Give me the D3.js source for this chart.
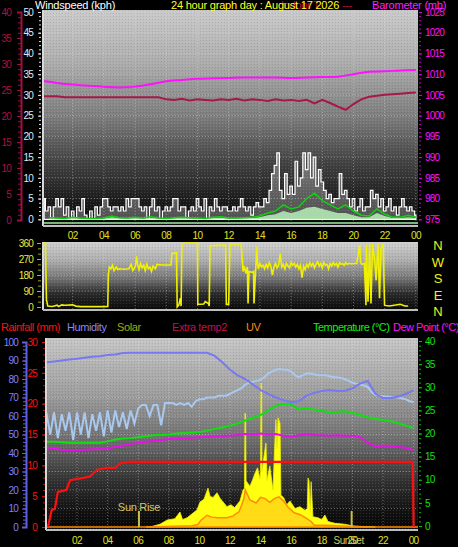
<!DOCTYPE html>
<html><head><meta charset="utf-8">
<script src="https://cdn.jsdelivr.net/npm/d3@7/dist/d3.min.js"></script>
<style>
body{margin:0;background:#000;}
svg{display:block;}
text{font-family:"Liberation Sans",Arial,sans-serif;}
</style>
</head><body>
<svg id="c" width="458" height="547"></svg>
<script>
// ---------------- DATA ----------------
const timeLabels = ["02","04","06","08","10","12","14","16","18","20","22","00"];
const timeLabelHours = [2,4,6,8,10,12,14,16,18,20,22,24];

// Top panel: wind (kph), 10-minute gusts
const windGust = [
 5,2,3,0,3,5, 3,5,1,3,0,2, 0,3,2,5,1,0, 2,0,3,1,3,5, 5,3,2,3,3,2, 3,2,5,3,5,5,
 5,3,2,3,0,3, 5,2,3,0,2,3, 2,3,5,5,2,3, 3,0,2,3,2,5, 3,2,5,0,3,2, 5,3,2,3,3,2,
 2,3,2,3,5,3, 2,3,1,3,4,3, 3,5,4,7,11,13, 16,7,5,11,6,8, 6,14,8,10,16,12, 16,10,15,8,12,9,
 7,5,6,4,5,5, 11,6,7,5,3,5, 2,3,5,2,3,3, 7,5,6,3,5,2, 3,5,2,3,1,3, 5,3,2,3,2,1
];
// half-hourly average wind speed
const windAvg = [
 0.4,0.3, 0.2,0.5, 0.3,0.2, 0.2,0.3, 0.8,0.4, 0.3,0.5, 0.3,0.6, 0.3,0.2, 0.4,0.5, 0.4,0.3,
 0.2,0.5, 0.6,0.3, 0.3,0.4, 0.5,0.8, 1.5,2, 3.5,2.5, 3,5, 6.3,4.5, 3.5,2.5, 3.5,2,
 1,0.8, 2.5,1.2, 0.5,0.5, 1,0.5
];
// half-hourly lull (pale green area)
const windLull = [
 0.3,0.2,0.2,0.3,0.2,0.2,0.2,0.2,0.5,0.3,0.2,0.3,0.2,0.4,0.2,0.2,0.3,0.3,0.2,0.2,
 0.2,0.3,0.4,0.2,0.2,0.3,0.3,0.5, 1,1.2,2,1.5,2,2.8,3,2.5,2,1.5,1.5,1,0.5,0.5,1.5,0.8,0.3,0.3,0.5,0.3
];
// hourly barometer (mb)
const barometer = [1008.4,1007.9,1007.5,1007.2,1007.0,1006.8,1007.0,1007.6,1008.3,1008.6,1008.9,1009.0,
 1009.1,1009.2,1009.2,1009.2,1009.1,1009.2,1009.3,1009.4,1010.0,1010.6,1010.7,1010.9,1011.0];
// half-hourly indoor temperature
const indoorTemp = [23.8,23.8,23.8,23.6,23.6,23.6,23.6,23.6,23.6,23.6,23.6,23.6,23.6,23.6,23.6,23.6,
 23.2,23.1,23.3,23.0,23.2,23.1,23.0,23.2,23.1,23.3,23.0,23.2,23.1,22.9,23.2,23.0,23.1,22.9,23.1,22.4,
 23.1,22.5,21.8,21.2,22.3,23.2,23.7,23.9,24.1,24.2,24.3,24.4,24.5];

// Middle panel: wind direction (deg)
const dirHours = [0.10,0.25,0.32,0.40,0.70,1.00,1.10,1.30,1.50,2.00,2.20,2.50,3.00,3.50,4.00,4.25,
 4.28,4.35,4.45,4.55,4.65,4.80,4.90,5.00,5.30,5.60,5.75,5.85,6.00,6.10,6.15,6.25,6.35,6.45,6.55,6.65,6.75,6.85,6.95,7.05,7.15,7.30,7.40,7.60,7.80,8.00,8.30,
 8.35,8.65,8.70,8.80,8.90,8.95,9.00,9.20,10.00,10.02,10.40,10.50,10.70,10.75,10.80,11.80,11.85,12.00,12.08,12.80,12.92,13.00,13.10,13.20,13.24,13.30,13.50,13.60,13.62,13.80,13.85,
 13.90,14.00,14.10,14.20,14.30,14.40,14.50,14.60,14.70,14.80,14.90,15.00,15.10,15.20,15.30,15.40,15.50,15.60,15.70,15.80,15.90,16.00,16.10,16.20,16.30,16.40,16.50,16.60,16.70,16.80,16.90,
 17.00,17.10,17.20,17.30,17.40,17.50,17.60,17.70,17.80,17.90,18.00,18.10,18.20,18.30,18.40,18.50,18.60,18.70,18.80,18.90,19.00,19.10,19.20,19.30,19.40,19.50,19.60,19.70,19.80,19.90,20.00,20.20,20.40,20.45,20.55,20.70,20.80,
 20.82,20.93,21.03,21.12,21.22,21.35,21.45,21.57,21.67,21.76,21.90,21.99,22.08,22.30,23.00,23.30,23.50,24.20];
const dirDeg = [355,360,40,5,3,10,3,12,10,12,5,2,2,2,2,3,
 180,225,215,235,205,225,210,215,212,215,240,205,225,285,240,210,245,220,235,205,240,215,225,200,230,215,240,238,236,236,236,
 300,305,0,10,50,5,355,360,360,15,17,30,20,5,345,348,15,15,355,355,200,230,190,225,20,200,195,200,20,340,
 240,215,245,225,235,215,240,220,250,230,180,225,245,220,235,300,225,240,215,245,230,220,250,235,245,225,240,215,235,165,230,
 210,240,225,250,230,245,220,240,255,230,245,220,250,235,240,215,245,230,250,235,245,225,250,240,245,235,250,240,245,245,242,245,245,350,250,240,245,
 10,350,30,355,20,355,270,150,355,50,330,355,10,8,6,15,6,6];

// Bottom panel
const rainHours = [0.1,0.35,0.55,0.75,1.3,1.55,2.5,2.85,3.3,3.95,4.5,4.85,5.35,23.95,24.0];
const rainMM    = [0,2.8,2.9,5.7,6.0,7.6,8.0,8.2,9.25,9.6,9.6,10.4,10.55,10.55,0];
// half-hourly humidity (%)
const humidity = [89,89.5,90,90.5,91,91.5,92,92.3,93,93.3,94,94.2,
 94.2,94.2,94.2,94.2,94.2,94.2,94.2,94.2,94.2,94.2,
 92.5,89,85,82,80,77,74,72,70,68.5,67.5,68,71,72.5,73.5,74,73.5,73.5,75,77.5,79,72,69.7,69.7,70.5,72,74];
// 15-minute extra humidity (%) (light blue)
const extraHum = [62,50,62,48,61, 52,62,47,62, 50,62,48,61, 52,62,49,63, 51,63,54,62, 53,63,56,64,
 66,66,60,66, 66,55,67,67, 67,66,67,66, 67,65,68,69, 69,70,70,70, 71,71,71,72, 73,74,75,77,
 78,78.5,79,79.5, 81,83,84,85, 85.4,85,85,84, 82,81,82,83, 83,82.5,82,82, 82,81.5,81,81,
 80.5,80,79,78, 77.5,77,76.5,75.7, 73,71.5,71,70.5, 70.5,70.3,70.3,70, 69.5,69,68,67.5];
// half-hourly temperature and dew point (°C)
const temperature = [18.2,18.2,18.1,18.0,18.0,18.0,18.0,18.0,18.3,18.7,18.9,19.0,19.2,19.4,19.6,19.7,19.8,20.0,20.1,20.2,
 20.3,20.6,21.0,21.3,21.7,22.2,22.8,23.4,24.0,25.0,26.0,26.4,26.3,25.2,25.4,25.2,24.9,24.6,24.7,24.8,24.5,24.0,23.5,23.2,22.9,22.7,22.2,21.7,21.2];
const dewPoint = [16.9,16.8,16.5,16.4,16.4,16.5,16.6,16.6,16.8,17.1,17.4,17.7,18.0,18.2,18.4,18.6,18.8,18.9,19.0,19.1,
 19.2,19.3,19.4,19.5,19.5,19.7,19.9,19.8,20.0,19.8,19.9,19.5,19.3,19.6,19.9,19.7,19.6,19.5,19.6,19.5,19.5,19.2,18.0,17.2,17.4,17.3,17.1,16.9,16.4];
// solar (W/m2)
const solarHours = [6.77,7.42,7.9,8.4,8.73,8.9,9.2,9.5,9.84,10.04,10.3,10.56,10.7,10.9,11.15,11.35,11.6,11.8,12.06,12.3,12.65,12.85,12.95,12.98,13.02,13.05,13.3,13.5,13.63,13.8,13.96,14.0,14.03,14.07,14.09,14.22,14.35,14.42,14.6,14.81,14.94,15.0,15.07,15.14,15.27,15.33,15.5,15.7,15.92,16.25,16.57,16.9,17.05,17.1,17.16,17.25,17.3,17.42,17.75,18.0,18.2,18.4,18.86,19.5,20.1,20.8,21.5];
const solarW = [0,15,38,45,81,40,50,70,92,135,150,210,165,160,185,155,130,110,120,105,140,200,210,616,600,250,220,260,290,320,260,300,778,760,300,380,454,250,330,200,470,580,420,590,560,170,160,120,140,100,110,90,100,265,250,80,245,55,50,40,65,30,20,15,5,2,0];
// UV index
const uvHours = [6.5,9.5,9.9,10.1,10.5,10.8,11.2,11.8,12.2,12.6,12.9,13.0,13.3,13.7,14.0,14.3,14.6,14.9,15.2,15.5,15.8,16.2,16.6,17.0,17.3,17.5,18.2,19,20,21];
const uvIndex = [0,0.2,0.4,1.1,1.9,1.6,1.5,1.5,1.8,2.5,4.5,6.0,4.4,3.9,4.8,4.6,4.0,4.6,4.9,4.2,3.2,2.3,2.0,1.4,0.9,0.3,0.3,0.2,0.1,0];
const sunLabels = ["Sun Rise","SunSet"];
const sunHours = [6.05,19.95];

// ---------------- DRAWING ----------------
const svg = d3.select("#c");
const defs = svg.append("defs");
function grad(id, stops){
  const g = defs.append("linearGradient").attr("id",id).attr("x1",0).attr("y1",0).attr("x2",0).attr("y2",1);
  stops.forEach(s=>g.append("stop").attr("offset",s[0]).attr("stop-color",s[1]));
}
grad("g1",[[0,"#cacaca"],[0.25,"#acacac"],[0.5,"#7c7c7c"],[0.7,"#444"],[0.88,"#1c1c1c"],[1,"#080808"]]);
grad("g2",[[0,"#d0d0d0"],[0.3,"#a8a8a8"],[0.55,"#707070"],[0.75,"#2c2c2c"],[1,"#080808"]]);
grad("g3",[[0,"#c6c6c6"],[0.3,"#9c9c9c"],[0.55,"#6a6a6a"],[0.75,"#303030"],[0.9,"#121212"],[1,"#050505"]]);
const pat = defs.append("pattern").attr("id","dots").attr("width",3).attr("height",3).attr("patternUnits","userSpaceOnUse");
pat.append("rect").attr("x",0).attr("y",0).attr("width",1).attr("height",1).attr("fill","#fff").attr("opacity",0.12);
pat.append("rect").attr("x",2).attr("y",1).attr("width",1).attr("height",1).attr("fill","#000").attr("opacity",0.10);

const P1={x0:43,x1:418,y0:10,y1:226}, P2={x0:43,x1:418,y0:242,y1:310}, P3={x0:46,x1:418,y0:338,y1:530};
[["c1",P1],["c2",P2],["c3",P3]].forEach(([id,P])=>{
  defs.append("clipPath").attr("id",id).append("rect").attr("x",P.x0).attr("y",P.y0).attr("width",P.x1-P.x0).attr("height",P.y1-P.y0);
});
function panelBg(P,g){
  svg.append("rect").attr("x",P.x0).attr("y",P.y0).attr("width",P.x1-P.x0).attr("height",P.y1-P.y0).attr("fill",`url(#${g})`);
  svg.append("rect").attr("x",P.x0).attr("y",P.y0).attr("width",P.x1-P.x0).attr("height",P.y1-P.y0).attr("fill","url(#dots)");
}
panelBg(P1,"g1"); panelBg(P2,"g2"); panelBg(P3,"g3");

const xTop = d3.scaleLinear().domain([0,24]).range([41.5,415.9]);
const xBot = d3.scaleLinear().domain([0,24]).range([46.4,413.6]);
const yWind = d3.scaleLinear().domain([0,50]).range([219.3,12]);
const yIndoor = d3.scaleLinear().domain([0,40]).range([220,12]);
const yBaro = d3.scaleLinear().domain([975,1025]).range([219.3,12]);
const yDir = d3.scaleLinear().domain([0,360]).range([307,243]);
const yHum = d3.scaleLinear().domain([0,100]).range([527,342]);
const yRain = d3.scaleLinear().domain([0,30]).range([527,342]);
const yTemp = d3.scaleLinear().domain([0,40]).range([526,341]);
const ySolar = d3.scaleLinear().domain([0,1000]).range([527,342]);

const gridCol="#e8e8e8";
function grid(P, xs, ys, x){
  const g = svg.append("g").attr("clip-path",`url(#${P===P1?"c1":P===P2?"c2":"c3"})`);
  timeLabelHours.forEach(h=>g.append("line").attr("x1",x(h)).attr("x2",x(h)).attr("y1",P.y0).attr("y2",P.y1)
    .attr("stroke",gridCol).attr("stroke-opacity",0.4).attr("stroke-dasharray","1,2"));
  ys.forEach(v=>g.append("line").attr("x1",P.x0).attr("x2",P.x1).attr("y1",xs(v)).attr("y2",xs(v))
    .attr("stroke",gridCol).attr("stroke-opacity",0.4).attr("stroke-dasharray","1,2"));
}
grid(P1, yWind, d3.range(5,50,5), xTop);
grid(P2, yDir, [90,180,270], xTop);
grid(P3, yHum, d3.range(10,100,10), xBot);

// ---- top panel series
const halfH = d3.range(0,24.01,0.5);
const gustH = windGust.map((d,i)=>(i+1)/6);
const avgH = windAvg.map((d,i)=>(i+1)/2);
const hourH = barometer.map((d,i)=>i);
const t1 = svg.append("g").attr("clip-path","url(#c1)");
t1.append("path").datum(windGust).attr("fill","#ffffff").attr("fill-opacity",0.28).attr("stroke","#ffffff").attr("stroke-width",1.2)
  .attr("d",d3.area().curve(d3.curveStep).x((d,i)=>xTop(gustH[i])).y0(yWind(0)).y1(d=>yWind(d)));
t1.append("path").datum(windLull).attr("fill","#b8f0b8").attr("fill-opacity",0.85)
  .attr("d",d3.area().x((d,i)=>xTop(avgH[i])).y0(yWind(0)).y1(d=>yWind(d)));
t1.append("path").datum(windAvg).attr("fill","none").attr("stroke","#10d010").attr("stroke-width",1.5)
  .attr("d",d3.line().x((d,i)=>xTop(avgH[i])).y(d=>yWind(d)));
t1.append("line").attr("x1",P1.x0).attr("x2",P1.x1).attr("y1",223).attr("y2",223).attr("stroke","#a0e8a0").attr("stroke-width",1.5);
t1.append("path").datum(indoorTemp).attr("fill","none").attr("stroke","#a51848").attr("stroke-width",2)
  .attr("d",d3.line().x((d,i)=>xTop(halfH[i])).y(d=>yIndoor(d)));
t1.append("path").datum(barometer).attr("fill","none").attr("stroke","#ff10ff").attr("stroke-width",2)
  .attr("d",d3.line().curve(d3.curveMonotoneX).x((d,i)=>xTop(hourH[i])).y(d=>yBaro(d)));

// ---- middle panel
const t2 = svg.append("g").attr("clip-path","url(#c2)");
t2.append("path").datum(dirDeg).attr("fill","none").attr("stroke","#f0f000").attr("stroke-width",1.6)
  .attr("d",d3.line().x((d,i)=>xTop(dirHours[i])).y(d=>yDir(d)));

// ---- bottom panel
const q4 = extraHum.map((d,i)=>i/4);
const t3 = svg.append("g").attr("clip-path","url(#c3)");
t3.append("path").datum(solarW).attr("fill","#ffff10").attr("stroke","#f0f000").attr("stroke-width",0.8)
  .attr("d",d3.area().x((d,i)=>xBot(solarHours[i])).y0(yRain(0)).y1(d=>ySolar(d)));
t3.append("path").datum(uvIndex).attr("fill","#ff9a20").attr("fill-opacity",0.35)
  .attr("d",d3.area().x((d,i)=>xBot(uvHours[i])).y0(yRain(0)).y1(d=>yRain(d)));
t3.append("path").datum(uvIndex).attr("fill","none").attr("stroke","#ff8c00").attr("stroke-width",1.5)
  .attr("d",d3.line().x((d,i)=>xBot(uvHours[i])).y(d=>yRain(d)));
t3.append("line").attr("x1",P3.x0).attr("x2",P3.x1).attr("y1",yRain(0)).attr("y2",yRain(0)).attr("stroke","#ff8c00").attr("stroke-width",1.5);
t3.append("path").datum(extraHum).attr("fill","none").attr("stroke","#a8c8f0").attr("stroke-width",2)
  .attr("d",d3.line().x((d,i)=>xBot(q4[i])).y(d=>yHum(d)));
t3.append("path").datum(humidity).attr("fill","none").attr("stroke","#7878f0").attr("stroke-width",2)
  .attr("d",d3.line().x((d,i)=>xBot(halfH[i])).y(d=>yHum(d)));
t3.append("path").datum(temperature).attr("fill","none").attr("stroke","#10e010").attr("stroke-width",2)
  .attr("d",d3.line().x((d,i)=>xBot(halfH[i])).y(d=>yTemp(d)));
t3.append("path").datum(dewPoint).attr("fill","none").attr("stroke","#e810e8").attr("stroke-width",2)
  .attr("d",d3.line().x((d,i)=>xBot(halfH[i])).y(d=>yTemp(d)));
t3.append("path").datum(rainMM).attr("fill","none").attr("stroke","#ff1010").attr("stroke-width",2.2)
  .attr("d",d3.line().x((d,i)=>xBot(rainHours[i])).y(d=>yRain(d)));
sunHours.forEach((h,i)=>{
  t3.append("line").attr("x1",xBot(h)).attr("x2",xBot(h)).attr("y1",511).attr("y2",527).attr("stroke","#c8c040").attr("stroke-width",2);
});
svg.append("text").attr("x",xBot(sunHours[0])).attr("y",511).attr("text-anchor","middle").attr("fill","#d0c860")
  .attr("font-size","11px").attr("letter-spacing","-0.3px").text(sunLabels[0]);

// plot borders
[P1,P2,P3].forEach(P=>{
  svg.append("line").attr("x1",P.x0).attr("x2",P.x0).attr("y1",P.y0).attr("y2",P.y1).attr("stroke","#d8d8d8").attr("stroke-width",2);
  svg.append("line").attr("x1",P.x0).attr("x2",P.x1).attr("y1",P.y1).attr("y2",P.y1).attr("stroke","#bdbdbd").attr("stroke-width",2);
});

// ---- axes
const fmt = d => String(d);
function styleAxis(g, col, tickCol, showDomain, domW){
  g.attr("font-family",null).attr("font-size",null);
  g.selectAll("text").attr("fill",col).attr("font-size","10px").attr("letter-spacing","-0.8px");
  g.selectAll(".tick line").attr("stroke",tickCol);
  if(showDomain) g.select(".domain").attr("stroke",tickCol).attr("stroke-width",domW||2);
  else g.select(".domain").remove();
}
function minor(x, axisFn, scale, vals, size, col){
  const g = svg.append("g").attr("transform",`translate(${x},0)`).call(axisFn(scale).tickValues(vals).tickSize(size).tickFormat(""));
  g.select(".domain").remove(); g.selectAll(".tick line").attr("stroke",col);
}
// top-left maroon
minor(21, d3.axisLeft, yIndoor, d3.range(0,41,1), 3, "#a01040");
styleAxis(svg.append("g").attr("transform","translate(21,0)").call(d3.axisLeft(yIndoor).tickValues(d3.range(0,41,5)).tickFormat(fmt).tickSize(4).tickPadding(6)),
  "#b01040","#a01040",true,2);
// top-left white
minor(41, d3.axisLeft, yWind, d3.range(0,51,1), 2, "#e0e0e0");
styleAxis(svg.append("g").attr("transform","translate(41,0)").call(d3.axisLeft(yWind).tickValues(d3.range(0,51,5)).tickFormat(fmt).tickSize(3).tickPadding(5)),
  "#d8ecff","#e0e0e0",false);
// top-right magenta
minor(419, d3.axisRight, yBaro, d3.range(975,1026,1), 2, "#c000c0");
styleAxis(svg.append("g").attr("transform","translate(419,0)").call(d3.axisRight(yBaro).tickValues(d3.range(975,1026,5)).tickFormat(fmt).tickSize(3).tickPadding(3)),
  "#ff10ff","#e000e0",false);
// middle
minor(41, d3.axisLeft, yDir, d3.range(0,361,30), 3, "#a0a020");
styleAxis(svg.append("g").attr("transform","translate(41,0)").call(d3.axisLeft(yDir).tickValues([0,90,180,270,360]).tickFormat(fmt).tickSize(4).tickPadding(4)),
  "#e8e840","#b0b020",false);
// bottom-left blue
minor(26, d3.axisLeft, yHum, d3.range(0,101,2), 3, "#6060e0");
styleAxis(svg.append("g").attr("transform","translate(26,0)").call(d3.axisLeft(yHum).tickValues(d3.range(0,101,10)).tickFormat(fmt).tickSize(4).tickPadding(4)),
  "#8080ff","#6060e0",true,2);
// bottom-left red
minor(45, d3.axisLeft, yRain, d3.range(0,31,1), 2, "#d01010");
styleAxis(svg.append("g").attr("transform","translate(45,0)").call(d3.axisLeft(yRain).tickValues(d3.range(0,31,5)).tickFormat(fmt).tickSize(3).tickPadding(5)),
  "#ff1010","#e01010",false);
// bottom-right green
minor(419, d3.axisRight, yTemp, d3.range(0,41,1), 2, "#10b010");
styleAxis(svg.append("g").attr("transform","translate(419,0)").call(d3.axisRight(yTemp).tickValues(d3.range(0,41,5)).tickFormat(fmt).tickSize(3).tickPadding(3)),
  "#10e010","#10c010",false);

// time labels
timeLabels.forEach((t,i)=>{
  svg.append("text").attr("x",xTop(timeLabelHours[i])).attr("y",239).attr("text-anchor","middle")
    .attr("fill","#e0e020").attr("font-size","10px").attr("letter-spacing","-0.6px").text(t);
  svg.append("text").attr("x",xBot(timeLabelHours[i])).attr("y",544).attr("text-anchor","middle")
    .attr("fill","#e0e020").attr("font-size","10px").attr("letter-spacing","-0.6px").text(t);
});
svg.append("text").attr("x",xBot(sunHours[1])-3).attr("y",544).attr("text-anchor","middle").attr("fill","#d0c860")
  .attr("font-size","10px").attr("letter-spacing","-0.4px").text(sunLabels[1]);

// compass
const compass = ["N","W","S","E","N"];
const compassY = [250,267,283,300,316];
compass.forEach((c,i)=>svg.append("text").attr("x",438).attr("y",compassY[i]).attr("text-anchor","middle")
  .attr("fill","#f0f020").attr("font-size","13px").text(c));

// titles
function title(x,y,txt,col,ls){
  svg.append("text").attr("x",x).attr("y",y).attr("fill",col).attr("font-size","11px").attr("letter-spacing",(ls||-0.3)+"px").text(txt);
}
title(281,9,"Indoor T","#b01040");
title(342,9,"---","#b01040");
title(35,9,"Windspeed (kph)","#ffffff",-0.2);
title(171,9,"24 hour graph day : August 17 2026","#ffff20",-0.2);
title(372,9,"Barometer (mb)","#ff20ff",-0.2);

title(1,331,"Rainfall (mm)","#ff1010",-0.5);
title(67,331,"Humidity","#8888ff",-0.4);
title(117,331,"Solar","#a8a810",-0.4);
title(172,331,"Extra temp2","#c01050",-0.4);
title(246,331,"UV","#ff8c10",-0.4);
title(313,331,"Temperature (°C)","#10f010",-0.5);
title(393,331,"Dew Point (°C)","#ff10ff",-0.5);
</script>
</body></html>
